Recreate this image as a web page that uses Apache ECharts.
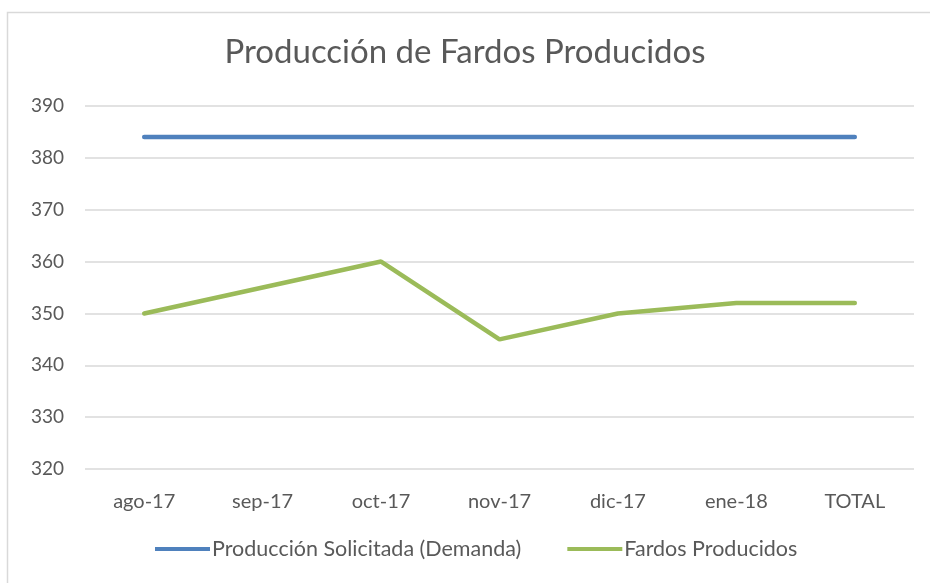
<!DOCTYPE html>
<html>
<head>
<meta charset="utf-8">
<script src="https://cdn.jsdelivr.net/npm/echarts@6/dist/echarts.min.js"></script>
<style>
html,body{margin:0;padding:0;background:#fff;}
#c{position:absolute;left:0;top:0;width:930px;height:583px;}
</style>
</head>
<body>
<div id="c"></div>
<script>
const categories = ['ago-17','sep-17','oct-17','nov-17','dic-17','ene-18','TOTAL'];
const demanda = [384,384,384,384,384,384,384];
const producidos = [350,355,360,345,350,352,352];
const seriesNames = ['Producción Solicitada (Demanda)','Fardos Producidos'];
const yMin = 320, yMax = 390, yStep = 10;

const chart = echarts.init(document.getElementById('c'), null, {renderer:'canvas'});
const font = 'Lato, "Noto Sans", sans-serif';
chart.setOption({
  animation:false,
  backgroundColor:'#fff',
  graphic:[{type:'rect',shape:{x:7.5,y:12.5,width:940,height:600},style:{fill:'none',stroke:'#d9d9d9',lineWidth:1.5},silent:true}],
  title:{text:'Producción de Fardos Producidos',left:'center',top:31,
    textStyle:{fontFamily:font,fontSize:33,fontWeight:'normal',color:'#595959'}},
  grid:{left:85,right:16,top:106,bottom:114,containLabel:false},
  legend:{bottom:18,left:150,itemWidth:55,itemHeight:4,itemGap:46,icon:'rect',
    textStyle:{fontFamily:font,fontSize:21.5,color:'#595959',padding:[0,0,0,-3]},
    data:seriesNames},
  xAxis:{type:'category',data:categories,boundaryGap:true,
    axisLine:{show:false},axisTick:{show:false},
    axisLabel:{fontFamily:font,fontSize:20,color:'#595959',margin:23}},
  yAxis:{type:'value',min:yMin,max:yMax,interval:yStep,
    axisLine:{show:false},axisTick:{show:false},
    axisLabel:{fontFamily:font,fontSize:19,color:'#595959',margin:21},
    splitLine:{lineStyle:{color:'#d9d9d9',width:1.5}}},
  series:[
    {name:seriesNames[0],type:'line',data:demanda,symbol:'none',
      lineStyle:{color:'#4f81bd',width:4.5,cap:'round'},itemStyle:{color:'#4f81bd'}},
    {name:seriesNames[1],type:'line',data:producidos,symbol:'none',
      lineStyle:{color:'#9bbb59',width:4.5,cap:'round'},itemStyle:{color:'#9bbb59'}}
  ]
});
</script>
</body>
</html>
